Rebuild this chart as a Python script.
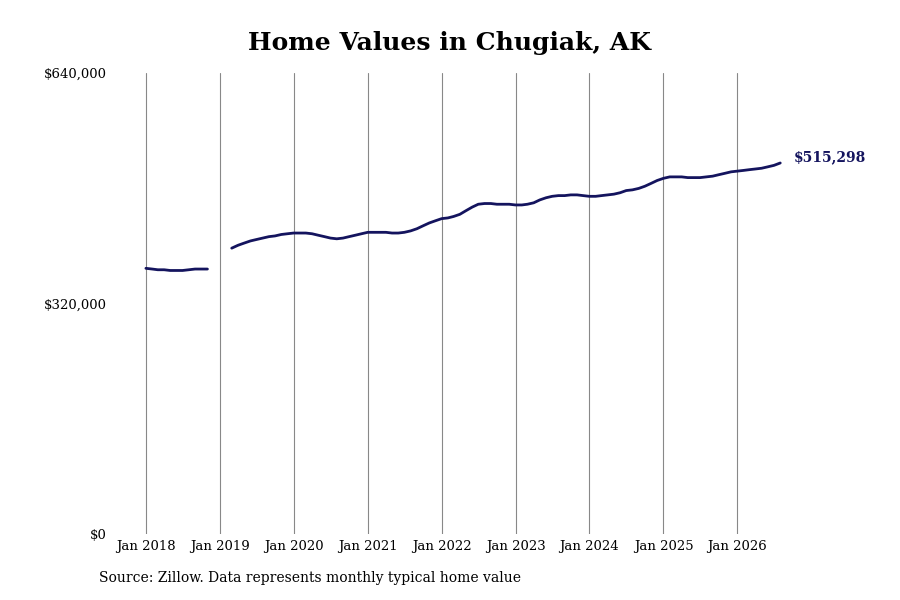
import numpy as np, pandas as pd, matplotlib
matplotlib.use("Agg")
import matplotlib.pyplot as plt, seaborn as sns

v2018 = [369,368,367,367,366,366,366,367,368,368,368, np.nan]
v2019 = [np.nan,np.nan,397,401,404,407,409,411,413,414,416,417]
v2020 = [418,418,418,417,415,413,411,410,411,413,415,417]
v2021 = [419,419,419,419,418,418,419,421,424,428,432,435]
v2022 = [438,439,441,444,449,454,458,459,459,458,458,458]
v2023 = [457,457,458,460,464,467,469,470,470,471,471,470]
v2024 = [469,469,470,471,472,474,477,478,480,483,487,491]
v2025 = [494,496,496,496,495,495,495,496,497,499,501,503]
v2026 = [504,505,506,507,508,510,512,515.298]
vals = np.array(v2018+v2019+v2020+v2021+v2022+v2023+v2024+v2025+v2026)*1000
dates = pd.date_range("2018-01-01", periods=len(vals), freq="MS")
df = pd.DataFrame({"date": dates, "value": vals})
yticks = [0, 320000, 640000]
ylabels = ["$0", "$320,000", "$640,000"]
xyears = list(range(2018, 2027))

sns.set_theme(style="white")
plt.rcParams['font.family'] = ['DejaVu Serif']
plt.rcParams['text.color'] = 'black'
fig = plt.figure(figsize=(9, 6), dpi=100)
ax = fig.add_axes([0.125, 0.11, 0.755, 0.768])
color = "#14145e"
ax.plot(df["date"], df["value"], color=color, lw=2)
ax.set_ylim(0, 640000)
ax.set_xlim(pd.Timestamp("2017-07-20"), pd.Timestamp("2026-09-28"))
ax.set_yticks(yticks)
ax.set_yticklabels(ylabels, fontsize=9.5, color="black")
xt = [pd.Timestamp(f"{y}-01-01") for y in xyears]
ax.set_xticks(xt)
ax.set_xticklabels([f"Jan {y}" for y in xyears], fontsize=9.5, color="black")
for x in xt:
    ax.axvline(x, color="#888888", lw=0.8, zorder=0)
for s in ax.spines.values():
    s.set_visible(False)
ax.tick_params(axis="both", length=0, pad=4)
ax.set_ylabel(""); ax.set_xlabel("")
ax.annotate(f"${vals[-1]:,.0f}", (df["date"].iloc[-1], vals[-1]), xytext=(10, 4),
            textcoords="offset points", color=color, fontweight="bold", fontsize=10, va="center")
fig.text(0.5, 0.928, "Home Values in Chugiak, AK", ha="center", va="center", fontsize=18,
         fontweight="bold", color="black")
fig.text(0.11, 0.03, "Source: Zillow. Data represents monthly typical home value", fontsize=10, color="black")
fig.savefig("out.png", dpi=100)
